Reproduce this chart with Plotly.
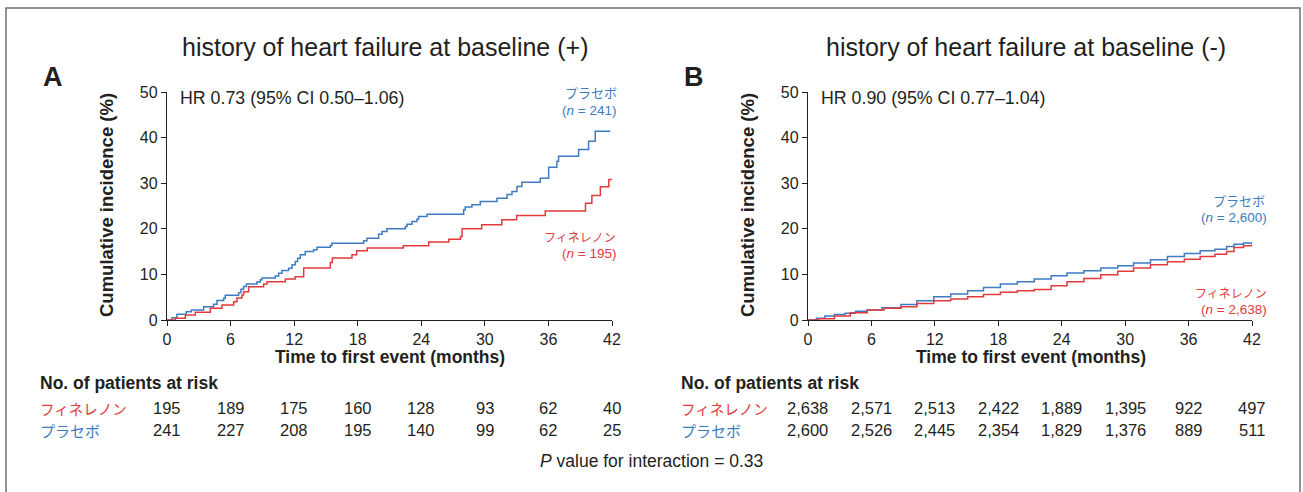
import plotly.graph_objects as go

W, H = 1303, 492

# ---------------- data ----------------
months_ticks = [0, 6, 12, 18, 24, 30, 36, 42]

# Panel A (history of HF +) step curves: time (months), cumulative incidence (%)
a_pla_t = [0, 0.47, 0.94, 1.82, 2.30, 3.46, 4.40, 4.72, 5.35, 5.50, 6.76, 6.98, 7.23, 7.49,
           8.49, 8.81, 8.97, 10.22, 10.54, 10.85, 11.48, 11.80, 12.11, 12.33, 12.58, 13.05,
           13.84, 14.16, 15.41, 15.57, 18.56, 18.87, 19.97, 20.29, 20.76, 22.49, 22.65, 23.12,
           23.59, 23.75, 24.54, 28.0, 28.15, 28.78, 29.57, 31.14, 32.09, 32.56, 33.03, 33.50,
           35.23, 36.02, 36.80, 36.96, 38.85, 39.79, 40.42, 41.84]
a_pla_v = [0, 0.5, 1.25, 1.83, 2.2, 2.93, 3.44, 4.25, 4.76, 5.42, 6.0, 6.74, 7.33, 7.9,
           8.35, 8.8, 9.23, 9.67, 10.26, 10.84, 11.36, 12.09, 12.82, 13.55, 14.29, 15.02,
           15.38, 15.97, 16.34, 16.85, 17.36, 17.95, 18.83, 19.41, 20.0, 20.5, 21.0, 21.6,
           22.1, 22.7, 23.2, 24.2, 24.8, 25.3, 26.0, 26.7, 27.5, 28.2, 29.3, 30.2,
           31.1, 33.5, 34.8, 35.9, 37.4, 39.2, 41.4, 41.4]

a_fin_t = [0, 0.79, 1.73, 2.67, 4.09, 5.19, 6.29, 6.60, 7.08, 7.23, 7.70, 9.12, 9.44, 11.17,
           12.10, 12.90, 15.41, 15.60, 17.46, 17.90, 18.90, 22.30, 24.70, 26.60, 27.70,
           27.85, 29.70, 31.60, 33.00, 35.70, 39.50, 40.10, 40.90, 41.70, 42.0]
a_fin_v = [0, 0.4, 1.1, 1.7, 2.6, 3.3, 4.0, 4.8, 5.5, 6.2, 7.3, 7.9, 8.4, 9.0,
           9.5, 11.4, 12.6, 13.6, 14.3, 15.2, 15.8, 16.3, 17.1, 17.7, 18.3,
           20.0, 20.9, 22.0, 22.9, 23.9, 25.6, 27.3, 29.2, 30.8, 30.8]

# Panel B (history of HF -) step curves
b_pla_t = [0, 0.8, 1.6, 2.5, 3.5, 4.5, 5.6, 7.0, 8.8, 10.3, 11.9, 13.5, 15.1, 16.6, 18.2,
           19.8, 21.4, 23.0, 24.5, 26.1, 27.7, 29.3, 30.8, 32.4, 34.0, 35.6, 37.1, 38.5,
           39.6, 40.3, 41.2, 42.0]
b_pla_v = [0, 0.4, 0.9, 1.2, 1.5, 1.9, 2.2, 2.7, 3.4, 4.2, 5.1, 5.7, 6.4, 7.1, 7.9,
           8.4, 9.0, 9.7, 10.3, 10.8, 11.4, 11.9, 12.5, 13.2, 13.9, 14.6, 15.2, 15.5,
           16.1, 16.6, 16.9, 17.1]

b_fin_t = [0, 1.0, 2.5, 4.0, 5.6, 7.2, 8.8, 10.3, 11.9, 13.5, 15.1, 16.6, 18.2, 19.8,
           21.4, 23.0, 24.5, 26.1, 27.7, 29.3, 30.8, 32.4, 34.0, 35.6, 37.1, 38.5, 39.6,
           40.3, 41.2, 42.0]
b_fin_v = [0, 0.3, 0.9, 1.6, 2.2, 2.6, 2.9, 3.6, 4.2, 4.6, 5.1, 5.6, 6.1, 6.4,
           6.7, 7.5, 8.4, 9.1, 9.9, 10.7, 11.4, 12.1, 12.8, 13.3, 13.9, 14.4, 15.0,
           15.9, 16.3, 16.6]

# numbers at risk
a_fin_risk = ["195", "189", "175", "160", "128", "93", "62", "40"]
a_pla_risk = ["241", "227", "208", "195", "140", "99", "62", "25"]
b_fin_risk = ["2,638", "2,571", "2,513", "2,422", "1,889", "1,395", "922", "497"]
b_pla_risk = ["2,600", "2,526", "2,445", "2,354", "1,829", "1,376", "889", "511"]

titles = ["history of heart failure at baseline (+)", "history of heart failure at baseline (-)"]
panel_letters = ["A", "B"]
hr_texts = ["HR 0.73 (95% CI 0.50–1.06)", "HR 0.90 (95% CI 0.77–1.04)"]
name_pla = "プラセボ"
name_fin = "フィネレノン"
n_pla = ["241", "2,600"]
n_fin = ["195", "2,638"]
p_text = "<i>P</i> value for interaction = 0.33"

# ---------------- style ----------------
BLUE = "#3d7cc0"
RED = "#e23a3d"
TXT = "#231f20"
FONT = "Liberation Sans, Arial, Noto Sans CJK JP, sans-serif"
JFONT = "Noto Sans CJK JP, Liberation Sans, sans-serif"


def px(x):
    return x / W


def py(y):
    return 1 - y / H


fig = go.Figure()

curves = [
    ("x", "y", a_pla_t, a_pla_v, BLUE),
    ("x", "y", a_fin_t, a_fin_v, RED),
    ("x2", "y2", b_pla_t, b_pla_v, BLUE),
    ("x2", "y2", b_fin_t, b_fin_v, RED),
]
for xa, ya, t, v, c in curves:
    fig.add_trace(go.Scatter(x=t, y=v, xaxis=xa, yaxis=ya, mode="lines",
                             line=dict(shape="hv", color=c, width=1.5),
                             showlegend=False, hoverinfo="skip"))

# axes geometry (pixels)
ax_x = [(167, 612), (808, 1252)]
ax_y = (92, 320)

axis_common = dict(showline=True, linecolor=TXT, linewidth=1.3, ticks="outside",
                   ticklen=5, tickwidth=1.2, tickcolor=TXT, showgrid=False, zeroline=False,
                   automargin=False,
                   tickfont=dict(family=FONT, size=16, color=TXT))

layout_axes = {}
for i, (x0, x1) in enumerate(ax_x):
    sfx = "" if i == 0 else "2"
    layout_axes["xaxis" + sfx] = dict(axis_common, domain=[px(x0), px(x1)], range=[0, 42],
                                      tickvals=months_ticks, anchor="y" + sfx)
    layout_axes["yaxis" + sfx] = dict(axis_common, domain=[py(ax_y[1]), py(ax_y[0])],
                                      range=[0, 50], tickvals=[0, 10, 20, 30, 40, 50],
                                      anchor="x" + sfx)

annotations = []


def ann(x, y, text, size, color=TXT, xanchor="center", family=FONT, bold=False, angle=0,
        xref="paper"):
    if bold:
        text = "<b>" + text + "</b>"
    annotations.append(dict(x=x, y=y, xref=xref, yref="paper", text=text, showarrow=False,
                            xanchor=xanchor, yanchor="middle", textangle=angle,
                            font=dict(family=family, size=size, color=color)))


offsets = [0, 641]
for i in range(2):
    o = offsets[i]
    xr = "x" if i == 0 else "x2"
    ann(px(385 + o), py(47), titles[i], 25)
    ann(px(53 + o), py(77), panel_letters[i], 27, bold=True)
    ann(px(106 + o), py(205), "Cumulative incidence (%)", 18.5, bold=True, angle=-90)
    ann(px(390 + o), py(357), "Time to first event (months)", 17.5, bold=True)
    ann(px(178 + o), py(98), hr_texts[i], 17.8, xanchor="left")
    ann(px(38 + o), py(383), "No. of patients at risk", 17.5, xanchor="left", bold=True)
    ann(px(38 + o), py(408), name_fin, 14.5, color=RED, xanchor="left", family=JFONT)
    ann(px(38 + o), py(430), name_pla, 15, color=BLUE, xanchor="left", family=JFONT)
    fin_r = a_fin_risk if i == 0 else b_fin_risk
    pla_r = a_pla_risk if i == 0 else b_pla_risk
    for m, a, b in zip(months_ticks, fin_r, pla_r):
        ann(m, py(408), a, 16.5, xref=xr)
        ann(m, py(430), b, 16.5, xref=xr)

# series labels
ann(px(591), py(93), name_pla, 13, color=BLUE, family=JFONT)
ann(px(618), py(111), "(<i>n</i> = " + n_pla[0] + ")", 13.5, color=BLUE, xanchor="right")
ann(px(618), py(236), name_fin, 12, color=RED, family=JFONT, xanchor="right")
ann(px(618), py(253), "(<i>n</i> = " + n_fin[0] + ")", 13.5, color=RED, xanchor="right")

ann(px(1239), py(200), name_pla, 13, color=BLUE, family=JFONT)
ann(px(1269), py(217), "(<i>n</i> = " + n_pla[1] + ")", 13.5, color=BLUE, xanchor="right")
ann(px(1269), py(292), name_fin, 12, color=RED, family=JFONT, xanchor="right")
ann(px(1269), py(309), "(<i>n</i> = " + n_fin[1] + ")", 13.5, color=RED, xanchor="right")

ann(px(651), py(461), p_text, 17.5)

fig.update_layout(
    width=W, height=H, margin=dict(l=0, r=0, t=0, b=0),
    paper_bgcolor="white", plot_bgcolor="white",
    annotations=annotations,
    shapes=[dict(type="rect", xref="paper", yref="paper", x0=px(6), x1=px(1300),
                 y0=py(500), y1=py(8), line=dict(color="#6f6f6f", width=1.5))],
    **layout_axes,
)

fig.write_html("out.html", config={"displayModeBar": False},
               post_script="document.body.style.margin='0';"
                           "document.body.style.overflow='hidden';")
